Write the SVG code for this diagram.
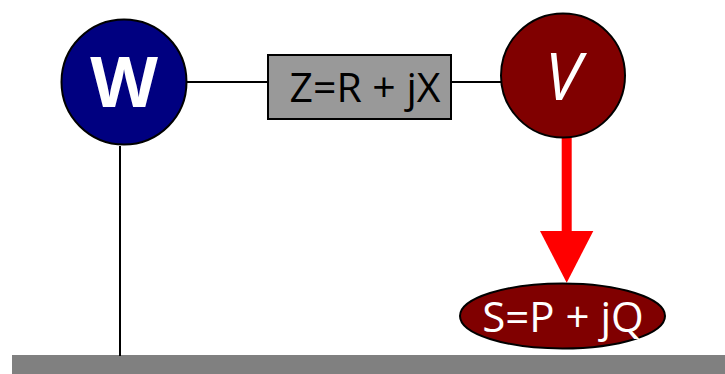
<svg xmlns="http://www.w3.org/2000/svg" width="725" height="374" viewBox="0 0 725 374">
<style>
.edge{stroke:#000;stroke-width:2;fill:none}
.node{stroke:#000;stroke-width:2}
.t{font-family:"Open Sans","Liberation Sans",sans-serif;text-anchor:middle}
</style>
<rect x="0" y="0" width="725" height="374" fill="#fff"/>
<g id="ground"><rect x="12" y="355" width="713" height="19" fill="#808080"/></g>
<g id="connectors">
<line class="edge" x1="186" y1="82" x2="268" y2="82"/>
<line class="edge" x1="451" y1="82" x2="501" y2="82"/>
<line class="edge" x1="120" y1="146" x2="120" y2="356"/>
<rect x="561.7" y="137" width="10" height="95" fill="#ff0000"/>
<polygon points="540,231 593.3,231 566.7,282.7" fill="#ff0000"/>
</g>
<g id="W">
<circle class="node" cx="124" cy="82" r="62.5" fill="#000080"/>
<text class="t" x="124" y="107" font-size="70" font-weight="bold" fill="#fff">W</text>
</g>
<g id="Z">
<rect class="node" x="268" y="55" width="183" height="64" fill="#999999"/>
<text class="t" x="365" y="102" font-size="41" fill="#000">Z=R + jX</text>
</g>
<g id="V">
<circle class="node" cx="563" cy="75.5" r="62" fill="#800000"/>
<text class="t" x="563" y="100" font-size="66" font-style="italic" fill="#fff">V</text>
</g>
<g id="S">
<ellipse class="node" cx="562.5" cy="316" rx="102.5" ry="32.5" fill="#800000"/>
<text class="t" x="563" y="332" font-size="42" fill="#fff">S=P + jQ</text>
</g>
</svg>
